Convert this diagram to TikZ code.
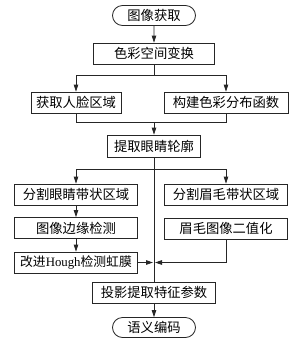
\documentclass[tikz,border=0pt]{standalone}
\usepackage{fontspec}
\setmainfont{Liberation Serif}
\newfontfamily\cjk{Noto Sans CJK SC}
\usetikzlibrary{arrows.meta,shapes.misc}
\begin{document}
\begin{tikzpicture}[x=1pt,y=-1pt,
  line/.style={draw=black!85, line width=0.8pt},
  arr/.style={line, -{Triangle[width=4.5pt,length=7pt]}},
  box/.style={draw=black!85, line width=0.8pt, rectangle, minimum height=21pt, inner sep=0pt, font=\fontsize{13.3}{15}\selectfont\cjk},
  term/.style={draw=black!85, line width=0.8pt, rounded rectangle, minimum width=83pt, minimum height=20pt, inner sep=0pt, font=\fontsize{13.3}{15}\selectfont\cjk}]
\fill[white] (0,0) rectangle (294,346);
\useasboundingbox (0,0) rectangle (294,346);
\node[term] (start) at (154,15.5) {图像获取};
\node[box, minimum width=121pt] (b1) at (154,53.5) {色彩空间变换};
\node[box, minimum width=90pt] (b2) at (76,102.5) {获取人脸区域};
\node[box, minimum width=124pt] (b3) at (226,102.5) {构建色彩分布函数};
\node[box, minimum width=93pt, minimum height=22pt] (b4) at (154,146) {提取眼睛轮廓};
\node[box, minimum width=123pt] (b5) at (76,194.5) {分割眼睛带状区域};
\node[box, minimum width=123pt] (b6) at (226,194.5) {分割眉毛带状区域};
\node[box, minimum width=123pt] (b7) at (76,228) {图像边缘检测};
\node[box, minimum width=123pt] (b8) at (226,228.5) {眉毛图像二值化};
\node[box, minimum width=123pt, font=\fontsize{12.8}{15}\selectfont] (b9) at (76,262.5) {{\cjk 改进}Hough{\cjk 检测虹膜}};
\node[box, minimum width=123pt] (b10) at (154,292.5) {投影提取特征参数};
\node[term] (end) at (154,327.5) {语义编码};
\coordinate (s1) at (154,75);
\coordinate (m1) at (154,122);
\coordinate (s2) at (154,169);
\coordinate (j) at (154,262.5);
\draw[arr] (start) -- (b1);
\draw[line] (b1) -- (s1);
\draw[arr] (s1) -| (b2);
\draw[arr] (s1) -| (b3);
\draw[line] (b2) |- (m1);
\draw[line] (b3) |- (m1);
\draw[arr] (m1) -- (b4);
\draw[line] (b4) -- (s2);
\draw[arr] (s2) -| (b5);
\draw[arr] (s2) -| (b6);
\draw[line] (s2) -- (b10);
\draw[arr] (b5) -- (b7);
\draw[arr] (b7) -- (b9);
\draw[arr, shorten >=1pt] (b9) -- (j);
\draw[arr, shorten >=1pt] (b8) |- (j);
\draw[arr] (b10) -- (end);
\end{tikzpicture}
\end{document}
